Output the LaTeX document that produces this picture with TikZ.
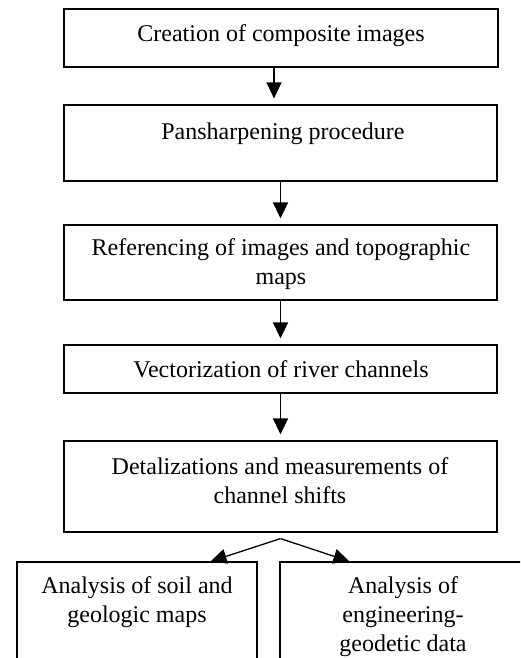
\documentclass[tikz,border=0pt]{standalone}
\usepackage{fontspec}
\setmainfont{Liberation Serif}
\usetikzlibrary{arrows.meta,calc}
\begin{document}
\begin{tikzpicture}[x=1pt,y=-1pt,
  box/.style={draw=black,line width=1.2pt,rectangle,inner sep=0pt},
  lbl/.style={align=center,inner sep=0pt,font=\fontsize{24}{29}\selectfont},
  arr/.style={line width=1.3pt,-{Triangle[width=15pt,length=16pt]}},
  arrs/.style={arr,shorten >=6pt}]
\useasboundingbox (0,0) rectangle (520,658);
\clip (0,0) rectangle (520,658);
% boxes
\node[box,minimum width=434pt,minimum height=58pt] (b1) at (281,38) {};
\node[box,minimum width=433pt,minimum height=76pt] (b2) at (280.5,143) {};
\node[box,minimum width=433pt,minimum height=75pt] (b3) at (280.5,262.5) {};
\node[box,minimum width=433pt,minimum height=48pt] (b4) at (280.5,369) {};
\node[box,minimum width=433pt,minimum height=91pt] (b5) at (280.5,486.5) {};
\node[box,minimum width=240pt,minimum height=140pt] (b6) at (137,632) {};
\node[box,minimum width=250pt,minimum height=140pt] (b7) at (405,632) {};
% texts
\node[lbl] (t1) at (281,36) {Creation of composite images};
\node[lbl] (t2) at (283,134) {Pansharpening procedure};
\node[lbl] (t3) at (281,264) {Referencing of images and topographic\\maps};
\node[lbl] (t4) at (281,369) {Vectorization of river channels};
\node[lbl] (t5) at (280,481) {Detalizations and measurements of\\channel shifts};
\node[lbl] (t6) at (137,602) {Analysis of soil and\\geologic maps};
\node[lbl] (t7) at (403,617) {Analysis of\\engineering-\\geodetic data};
% connectors
\draw[arrs] ([xshift=-7pt]b1.south) -- ([xshift=-7pt]b1.south |- b2.north);
\draw[arrs] (b2.south) -- (b3.north);
\draw[arrs] (b3.south) -- (b4.north);
\draw[arrs] (b4.south) -- (b5.north);
\coordinate (split) at ([yshift=-6pt]b5.south);
\draw[arr] (split) -- ($(b6.north east)+(-47,0)$);
\draw[arr] (split) -- ($(b7.north west)+(70,0)$);
\end{tikzpicture}
\end{document}
